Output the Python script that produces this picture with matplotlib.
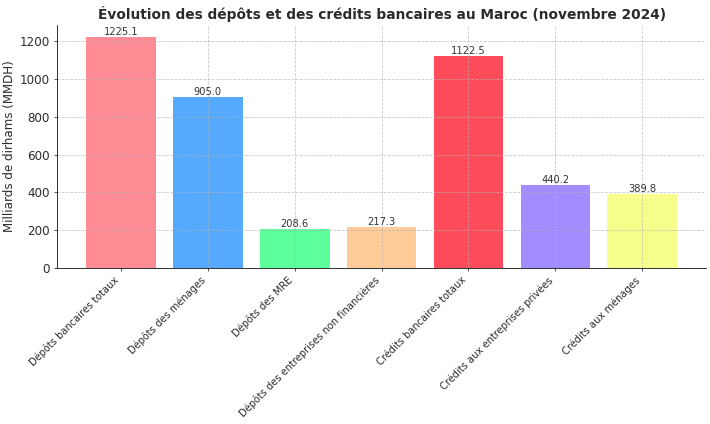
import matplotlib
matplotlib.use("Agg")
import matplotlib.pyplot as plt

categories = [
    "Dépôts bancaires totaux",
    "Dépôts des ménages",
    "Dépôts des MRE",
    "Dépôts des entreprises non financières",
    "Crédits bancaires totaux",
    "Crédits aux entreprises privées",
    "Crédits aux ménages",
]
values = [1225.1, 905.0, 208.6, 217.3, 1122.5, 440.2, 389.8]
colors = ["#FF8C94", "#55AAFF", "#5CFF9A", "#FFCC99", "#FF4C5B", "#A38CFF", "#F7FF8C"]


def main():
    # drawn at 10in wide, 71 dpi -> 710x424 px
    fig, ax = plt.subplots(figsize=(10, 5.972), dpi=71)
    bars = ax.bar(categories, values, color=colors)

    for bar, v in zip(bars, values):
        ax.text(bar.get_x() + bar.get_width() / 2, bar.get_height(), f"{v:.1f}",
                ha="center", va="bottom", fontsize=10, color="#333333")

    ax.set_title("Évolution des dépôts et des crédits bancaires au Maroc (novembre 2024)",
                 fontsize=14, fontweight="bold", color="#2b2b2b")
    ax.set_ylabel("Milliards de dirhams (MMDH)", fontsize=12, color="#2b2b2b")
    ax.set_xticks(range(len(categories)))
    ax.set_xticklabels(categories, rotation=45, ha="right", fontsize=10, color="#2b2b2b")
    ax.tick_params(axis="y", labelsize=12, colors="#2b2b2b")
    ax.tick_params(axis="x", colors="#2b2b2b")
    ax.grid(True, linestyle="--", alpha=0.7, color="#b0b0b0")
    ax.spines["top"].set_visible(False)
    ax.spines["right"].set_visible(False)

    fig.subplots_adjust(left=0.08, right=0.995, top=0.941, bottom=0.368)
    fig.savefig("out.png", dpi=71)
    plt.close(fig)


if __name__ == "__main__":
    main()
